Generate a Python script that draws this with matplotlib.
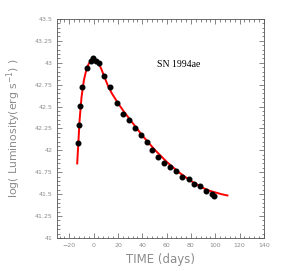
import numpy as np
import matplotlib
matplotlib.use('Agg')
from matplotlib import pyplot as plt
from matplotlib.ticker import MultipleLocator

# observed points (days, log L)
obs_day = [-12.9, -12.3, -11.1, -9.2, -5.2, -2.0, -0.2, 2.0, 4.5, 8.9,
           13.1, 18.9, 23.9, 28.9, 34.2, 38.9, 44.0, 48.4, 53.0, 58.2,
           63.1, 68.0, 72.7, 78.1, 82.2, 87.1, 92.6, 97.3, 98.6]
obs_logl = [42.08, 42.29, 42.51, 42.72, 42.94, 43.02, 43.05, 43.02, 43.00, 42.85,
            42.72, 42.54, 42.42, 42.35, 42.26, 42.18, 42.09, 42.00, 41.92, 41.86,
            41.81, 41.76, 41.70, 41.67, 41.62, 41.59, 41.54, 41.50, 41.48]

# model light curve
mod_day = [-13.5, -12.5, -11.5, -10, -8, -6, -4, -2, 0, 2, 4, 6, 8, 10, 12, 15,
           20, 25, 30, 35, 40, 45, 50, 55, 60, 65, 70, 75, 80, 85, 90, 95,
           100, 105, 110]
mod_logl = [41.85, 42.10, 42.35, 42.60, 42.80, 42.92, 42.99, 43.02, 43.03, 43.02,
            42.99, 42.94, 42.87, 42.80, 42.73, 42.65, 42.54, 42.44, 42.35, 42.26,
            42.17, 42.09, 42.01, 41.94, 41.87, 41.81, 41.75, 41.70, 41.65, 41.61,
            41.57, 41.54, 41.52, 41.50, 41.485]

grey = '#8c8c8c'
fig = plt.figure(figsize=(2.9, 2.71), dpi=100)
ax = fig.add_axes([0.197, 0.122, 0.713, 0.808])

ax.plot(mod_day, mod_logl, color='red', lw=1.4, zorder=2)
ax.plot(obs_day, obs_logl, 'o', color='black', ms=3.3, zorder=3)

ax.set_xlim(-30, 140)
ax.set_ylim(41, 43.5)
ax.xaxis.set_major_locator(MultipleLocator(20))
ax.xaxis.set_minor_locator(MultipleLocator(4))
ax.yaxis.set_major_locator(MultipleLocator(0.25))
ax.yaxis.set_minor_locator(MultipleLocator(0.05))
ax.set_yticks([41, 41.25, 41.5, 41.75, 42, 42.25, 42.5, 42.75, 43, 43.25, 43.5])
ax.set_yticklabels(['41', '41.25', '41.5', '41.75', '42', '42.25', '42.5',
                    '42.75', '43', '43.25', '43.5'])
ax.tick_params(which='both', direction='in', top=True, right=True,
               labelsize=4.5, labelcolor=grey, color='#555555', width=0.5)
ax.tick_params(which='major', length=3.5)
ax.tick_params(which='minor', length=1.8)
for s in ax.spines.values():
    s.set_linewidth(0.6)
    s.set_color('#555555')

ax.set_xlabel('TIME (days)', fontsize=8.5, color=grey, labelpad=4)
ax.set_ylabel('log( Luminosity(erg s$^{-1}$) )', fontsize=7.8, color=grey, labelpad=8)
ax.text(52.5, 42.985, 'SN 1994ae', family='Liberation Serif', fontsize=7,
        va='center', ha='left')

fig.savefig('out.png', dpi=100)
